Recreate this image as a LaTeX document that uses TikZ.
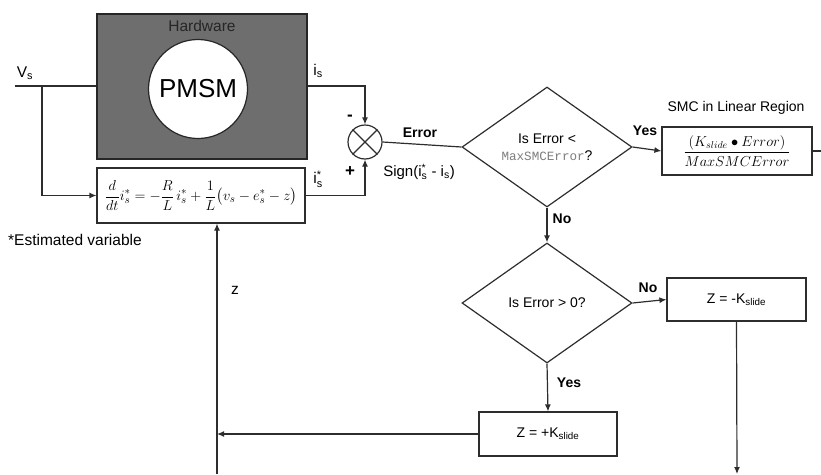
\documentclass[tikz,border=0pt]{standalone}
\usepackage{amsmath}
\usepackage{fontspec}
\setmainfont{Liberation Sans}
\newfontfamily\codefont{Liberation Mono}
\usetikzlibrary{arrows.meta,positioning,shapes.geometric}
\definecolor{hwgray}{RGB}{110,110,110}
\definecolor{linegray}{RGB}{45,45,45}
\definecolor{codegray}{RGB}{125,125,125}

\begin{document}
\begin{tikzpicture}[
        x=1pt, y=-1pt,
        >={Latex[length=7pt,width=6pt]},
        every node/.style={font=\fontsize{14}{16}\selectfont},
        line/.style={draw=linegray, line width=1.2pt},
        box/.style={
            draw=linegray,
            line width=1.2pt,
            fill=white,
            align=center,
            inner sep=0pt
        },
        decision/.style={
            diamond,
            draw=linegray,
            line width=1.2pt,
            align=center,
            aspect=1.4,
            inner sep=0pt,
            minimum width=170pt,
            minimum height=120pt
        },
        tag/.style={inner sep=0pt},
        bigtag/.style={inner sep=0pt, font=\fontsize{15.5}{17}\selectfont},
        bold/.style={inner sep=0pt, font=\fontsize{14}{16}\selectfont\bfseries}
    ]
        \useasboundingbox (0,0) rectangle (821,474);

        \node[box, fill=hwgray, draw=black!85, minimum width=210pt, minimum height=145pt] (hw) at (202,86.5) {};
        \node[bigtag, text=black!85] (hwlabel) at (202,26) {Hardware};
        \node[circle, draw=black!85, line width=1.2pt, fill=white, minimum size=99pt, inner sep=0pt,
            font=\fontsize{26}{28}\selectfont] (pmsm) at (198,89) {PMSM};

        \node[box, minimum width=208pt, minimum height=55pt] (eq) at (201,195.5)
            {\fontsize{15.5}{17}\selectfont$\displaystyle \frac{d}{dt}i_s^{*} = -\frac{R}{L}\,i_s^{*} + \frac{1}{L}\bigl(v_s - e_s^{*} - z\bigr)$};
        \node[bigtag, anchor=west] (note) at (8,240) {*Estimated variable};

        \coordinate (vsin) at (15,86);
        \coordinate (split) at (42,86);
        \node[bigtag] (vslabel) at (25,73) {V$_\text{s}$};
        \node[bigtag] (islabel) at (318,71) {i$_\text{s}$};
        \node[bigtag] (isestlabel) at (318,179) {i$_\text{s}^\text{*}$};

        \node[circle, draw=linegray, line width=1.2pt, minimum size=34pt, inner sep=0pt] (sum) at (365,142) {};
        \node[bold, font=\fontsize{17}{18}\selectfont\bfseries] (minus) at (350,118) {-};
        \node[bold, font=\fontsize{17}{18}\selectfont\bfseries] (plus) at (350,172) {+};
        \node[bold] (errlabel) at (420,133) {Error};
        \node[bigtag, font=\fontsize{15}{17}\selectfont] (signlabel) at (419,172) {Sign(i$_\text{s}^\text{*}$ - i$_\text{s}$)};

        \node[decision] (dec1) at (547,147)
            {Is Error <\\[1pt]{\codefont\fontsize{12.6}{14}\selectfont\color{codegray}MaxSMCError}?};
        \node[bold] (yes1) at (645,131) {Yes};
        \node[box, minimum width=150pt, minimum height=48pt] (smc) at (737,151)
            {\fontsize{14}{16}\selectfont$\displaystyle \frac{(K_{slide} \bullet Error)}{MaxSMCError}$};
        \node[tag] (smclabel) at (736,108) {SMC in Linear Region};
        \coordinate (smcout) at (821,151);

        \node[bold] (no1) at (562,219) {No};
        \node[decision] (dec2) at (547,303) {Is Error > 0?};
        \node[bold] (no2) at (648,288) {No};
        \node[box, minimum width=139pt, minimum height=43pt] (neg) at (736.5,299.5) {Z = -K$_\text{slide}$};
        \coordinate (negout) at (737,474);
        \node[bold] (yes2) at (569,383) {Yes};
        \node[box, minimum width=138pt, minimum height=44pt] (pos) at (548,434) {Z = +K$_\text{slide}$};

        \coordinate (zbot) at (217,474);
        \coordinate (zjoin) at (217,434);
        \node[bigtag] (zlabel) at (235,290) {z};

        \draw[line] (vsin) -- (hw.west |- vsin);
        \draw[line, ->] (split) |- (eq.west);
        \draw[line, ->] (hw.east |- split) -| (sum.north);
        \draw[line, ->] (eq.east) -| (sum.south);
        \draw[line] (sum.north west) -- (sum.south east);
        \draw[line] (sum.north east) -- (sum.south west);
        \draw[line] (sum.east) -- (dec1.west);
        \draw[line, ->] (dec1.east) -- (smc.west);
        \draw[line] (smc.east) -- (smcout);
        \draw[line, ->] (dec1.south) -- (dec2.north);
        \draw[line, ->] (dec2.east) -- (neg.west);
        \draw[line, ->] (neg.south) -- (negout);
        \draw[line, ->] (dec2.south) -- (pos.north);
        \draw[line, ->] (pos.west) -- (zjoin);
        \draw[line, ->] (zbot) -- (zbot |- eq.south);
    \end{tikzpicture}
\end{document}
